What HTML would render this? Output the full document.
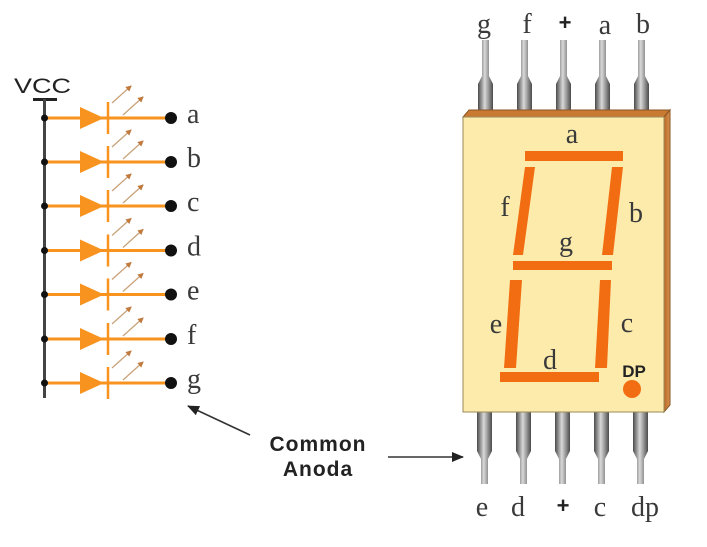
<!DOCTYPE html>
<html><head><meta charset="utf-8"><style>
html,body{margin:0;padding:0;background:#fff;}
svg{display:block;}
.s{font-family:"Liberation Serif",serif;fill:#3a3a3a;}
.b{font-family:"Liberation Sans",sans-serif;font-weight:bold;fill:#222;}
</style></head><body>
<svg width="707" height="547" viewBox="0 0 707 547" xmlns="http://www.w3.org/2000/svg">
<defs>
<linearGradient id="pin" x1="0" x2="1" y1="0" y2="0">
<stop offset="0" stop-color="#4a4a4a"/><stop offset="0.45" stop-color="#d8d8d8"/><stop offset="0.7" stop-color="#9a9a9a"/><stop offset="1" stop-color="#4a4a4a"/>
</linearGradient>
<linearGradient id="side" x1="0" x2="1"><stop offset="0" stop-color="#b86a25"/><stop offset="1" stop-color="#d99050"/></linearGradient>
<marker id="la" markerWidth="6" markerHeight="6" refX="5" refY="3" orient="auto" markerUnits="userSpaceOnUse"><path d="M0,0 L6,3 L0,6 z" fill="#c07a3e"/></marker>
<marker id="ka" markerWidth="12" markerHeight="10" refX="11" refY="5" orient="auto" markerUnits="userSpaceOnUse"><path d="M0,0 L12,5 L0,10 z" fill="#222"/></marker>
</defs>

<!-- VCC -->
<text x="14" y="93" font-family="Liberation Sans,sans-serif" font-size="21" fill="#222" textLength="57" lengthAdjust="spacingAndGlyphs">VCC</text>
<line x1="33" y1="99.5" x2="57" y2="99.5" stroke="#222" stroke-width="3"/>
<line x1="44.5" y1="99" x2="44.5" y2="398" stroke="#444" stroke-width="3"/>

<g id="rows">
<!-- row template drawn per y -->
</g>
<g>
<!-- a -->
<g transform="translate(0,118)">
<line x1="44" y1="0" x2="170" y2="0" stroke="#f7931e" stroke-width="3"/>
<circle cx="44.5" cy="0" r="3.5" fill="#111"/>
<polygon points="80,-11 80,11 104,0" fill="#f7931e"/>
<line x1="108" y1="-16" x2="108" y2="16" stroke="#f7931e" stroke-width="2.5"/>
<line x1="112" y1="-15" x2="131" y2="-32" stroke="#c9a27a" stroke-width="1.3" marker-end="url(#la)"/>
<line x1="123" y1="-3" x2="143" y2="-21" stroke="#c9a27a" stroke-width="1.3" marker-end="url(#la)"/>
<circle cx="171" cy="0" r="6" fill="#111"/>
<text class="s" x="187" y="5" font-size="28">a</text>
</g>
<g transform="translate(0,162)">
<line x1="44" y1="0" x2="170" y2="0" stroke="#f7931e" stroke-width="3"/>
<circle cx="44.5" cy="0" r="3.5" fill="#111"/>
<polygon points="80,-11 80,11 104,0" fill="#f7931e"/>
<line x1="108" y1="-16" x2="108" y2="16" stroke="#f7931e" stroke-width="2.5"/>
<line x1="112" y1="-15" x2="131" y2="-32" stroke="#c9a27a" stroke-width="1.3" marker-end="url(#la)"/>
<line x1="123" y1="-3" x2="143" y2="-21" stroke="#c9a27a" stroke-width="1.3" marker-end="url(#la)"/>
<circle cx="171" cy="0" r="6" fill="#111"/>
<text class="s" x="187" y="5" font-size="28">b</text>
</g>
<g transform="translate(0,206)">
<line x1="44" y1="0" x2="170" y2="0" stroke="#f7931e" stroke-width="3"/>
<circle cx="44.5" cy="0" r="3.5" fill="#111"/>
<polygon points="80,-11 80,11 104,0" fill="#f7931e"/>
<line x1="108" y1="-16" x2="108" y2="16" stroke="#f7931e" stroke-width="2.5"/>
<line x1="112" y1="-15" x2="131" y2="-32" stroke="#c9a27a" stroke-width="1.3" marker-end="url(#la)"/>
<line x1="123" y1="-3" x2="143" y2="-21" stroke="#c9a27a" stroke-width="1.3" marker-end="url(#la)"/>
<circle cx="171" cy="0" r="6" fill="#111"/>
<text class="s" x="187" y="5" font-size="28">c</text>
</g>
<g transform="translate(0,250.5)">
<line x1="44" y1="0" x2="170" y2="0" stroke="#f7931e" stroke-width="3"/>
<circle cx="44.5" cy="0" r="3.5" fill="#111"/>
<polygon points="80,-11 80,11 104,0" fill="#f7931e"/>
<line x1="108" y1="-16" x2="108" y2="16" stroke="#f7931e" stroke-width="2.5"/>
<line x1="112" y1="-15" x2="131" y2="-32" stroke="#c9a27a" stroke-width="1.3" marker-end="url(#la)"/>
<line x1="123" y1="-3" x2="143" y2="-21" stroke="#c9a27a" stroke-width="1.3" marker-end="url(#la)"/>
<circle cx="171" cy="0" r="6" fill="#111"/>
<text class="s" x="187" y="5" font-size="28">d</text>
</g>
<g transform="translate(0,294.5)">
<line x1="44" y1="0" x2="170" y2="0" stroke="#f7931e" stroke-width="3"/>
<circle cx="44.5" cy="0" r="3.5" fill="#111"/>
<polygon points="80,-11 80,11 104,0" fill="#f7931e"/>
<line x1="108" y1="-16" x2="108" y2="16" stroke="#f7931e" stroke-width="2.5"/>
<line x1="112" y1="-15" x2="131" y2="-32" stroke="#c9a27a" stroke-width="1.3" marker-end="url(#la)"/>
<line x1="123" y1="-3" x2="143" y2="-21" stroke="#c9a27a" stroke-width="1.3" marker-end="url(#la)"/>
<circle cx="171" cy="0" r="6" fill="#111"/>
<text class="s" x="187" y="5" font-size="28">e</text>
</g>
<g transform="translate(0,339)">
<line x1="44" y1="0" x2="170" y2="0" stroke="#f7931e" stroke-width="3"/>
<circle cx="44.5" cy="0" r="3.5" fill="#111"/>
<polygon points="80,-11 80,11 104,0" fill="#f7931e"/>
<line x1="108" y1="-16" x2="108" y2="16" stroke="#f7931e" stroke-width="2.5"/>
<line x1="112" y1="-15" x2="131" y2="-32" stroke="#c9a27a" stroke-width="1.3" marker-end="url(#la)"/>
<line x1="123" y1="-3" x2="143" y2="-21" stroke="#c9a27a" stroke-width="1.3" marker-end="url(#la)"/>
<circle cx="171" cy="0" r="6" fill="#111"/>
<text class="s" x="187" y="5" font-size="28">f</text>
</g>
<g transform="translate(0,383)">
<line x1="44" y1="0" x2="170" y2="0" stroke="#f7931e" stroke-width="3"/>
<circle cx="44.5" cy="0" r="3.5" fill="#111"/>
<polygon points="80,-11 80,11 104,0" fill="#f7931e"/>
<line x1="108" y1="-16" x2="108" y2="16" stroke="#f7931e" stroke-width="2.5"/>
<line x1="112" y1="-15" x2="131" y2="-32" stroke="#c9a27a" stroke-width="1.3" marker-end="url(#la)"/>
<line x1="123" y1="-3" x2="143" y2="-21" stroke="#c9a27a" stroke-width="1.3" marker-end="url(#la)"/>
<circle cx="171" cy="0" r="6" fill="#111"/>
<text class="s" x="187" y="5" font-size="28">g</text>
</g>
</g>

<!-- Common Anoda -->
<line x1="250" y1="435" x2="188" y2="406" stroke="#333" stroke-width="1.6" marker-end="url(#ka)"/>
<line x1="388" y1="457" x2="463" y2="457" stroke="#333" stroke-width="1.6" marker-end="url(#ka)"/>
<text class="b" x="318" y="451" font-size="21" text-anchor="middle" letter-spacing="1">Common</text>
<text class="b" x="318" y="476" font-size="21" text-anchor="middle" letter-spacing="1">Anoda</text>

<!-- top pins -->
<g fill="url(#pin)">
<path d="M482,40 h7 v36 l4,8 v28 h-15 v-28 l4,-8 z"/>
<path d="M521,40 h7 v36 l4,8 v28 h-15 v-28 l4,-8 z"/>
<path d="M560,40 h7 v36 l4,8 v28 h-15 v-28 l4,-8 z"/>
<path d="M599,40 h7 v36 l4,8 v28 h-15 v-28 l4,-8 z"/>
<path d="M638,40 h7 v36 l4,8 v28 h-15 v-28 l4,-8 z"/>
</g>
<!-- bottom pins -->
<g fill="url(#pin)">
<path d="M477,410 h15 v41 l-4,8 v25 h-7 v-25 l-4,-8 z"/>
<path d="M516,410 h15 v41 l-4,8 v25 h-7 v-25 l-4,-8 z"/>
<path d="M555,410 h15 v41 l-4,8 v25 h-7 v-25 l-4,-8 z"/>
<path d="M594,410 h15 v41 l-4,8 v25 h-7 v-25 l-4,-8 z"/>
<path d="M633,410 h15 v41 l-4,8 v25 h-7 v-25 l-4,-8 z"/>
</g>

<!-- box -->
<polygon points="469,110 670,110 664,117 463,117" fill="#c97a32" stroke="#8a5523" stroke-width="1"/>
<polygon points="664,117 670,110 670,405 664,412" fill="url(#side)" stroke="#8a5523" stroke-width="1"/>
<rect x="463" y="117" width="201" height="295" fill="#fcebab" stroke="#9a8a5a" stroke-width="1"/>

<!-- segments -->
<g fill="#f26d12">
<polygon points="525,151 623,151 623,161 525,161"/>
<polygon points="525,167 535,167 523,255 513,255"/>
<polygon points="612,167 623,167 613,255 602,255"/>
<polygon points="513,261 612,261 612,270 513,270"/>
<polygon points="510,280 522,280 516,368 504,368"/>
<polygon points="600,280 611,280 607,368 595,368"/>
<polygon points="500,372 599,372 599,382 500,382"/>
<circle cx="632" cy="389" r="9"/>
</g>
<text class="b" x="634" y="377" font-size="17" text-anchor="middle" fill="#222">DP</text>

<!-- segment labels -->
<g class="s" font-size="28" text-anchor="middle">
<text x="572" y="143">a</text>
<text x="505" y="216">f</text>
<text x="636" y="222">b</text>
<text x="566" y="251">g</text>
<text x="496" y="333">e</text>
<text x="627" y="332">c</text>
<text x="550" y="369">d</text>
</g>

<!-- top labels -->
<g class="s" font-size="28" text-anchor="middle">
<text x="484" y="33">g</text>
<text x="527" y="33">f</text>
<text x="605" y="34">a</text>
<text x="643" y="33">b</text>
</g>
<text class="b" x="565" y="30" font-size="22" text-anchor="middle">+</text>
<!-- bottom labels -->
<g class="s" font-size="28" text-anchor="middle">
<text x="482" y="516">e</text>
<text x="518" y="516">d</text>
<text x="600" y="516">c</text>
<text x="645" y="516">dp</text>
</g>
<text class="b" x="563" y="513" font-size="22" text-anchor="middle">+</text>
</svg>
</body></html>
